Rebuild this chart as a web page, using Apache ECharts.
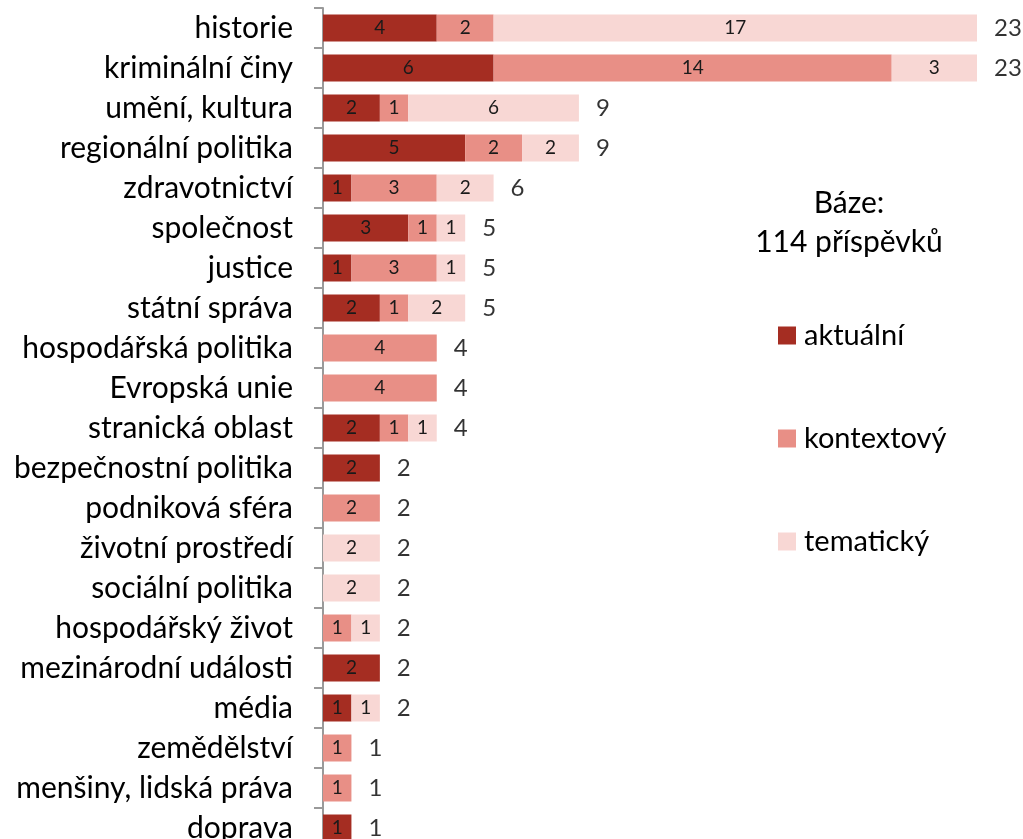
<!DOCTYPE html>
<html>
<head>
<meta charset="utf-8">
<script src="https://cdn.jsdelivr.net/npm/echarts@6/dist/echarts.min.js"></script>
<style>
  html, body { margin: 0; padding: 0; background: #fff; }
  #chart { width: 1023px; height: 839px; }
</style>
</head>
<body>
<div id="chart"></div>
<script>
// kategorie shora dolu
const categories = ['historie', 'kriminální činy', 'umění, kultura', 'regionální politika', 'zdravotnictví',
  'společnost', 'justice', 'státní správa', 'hospodářská politika', 'Evropská unie', 'stranická oblast',
  'bezpečnostní politika', 'podniková sféra', 'životní prostředí', 'sociální politika', 'hospodářský život',
  'mezinárodní události', 'média', 'zemědělství', 'menšiny, lidská práva', 'doprava']
const aktualni   = [4, 6, 2, 5, 1, 3, 1, 2, 0, 0, 2, 2, 0, 0, 0, 0, 2, 1, 0, 0, 1]
const kontextovy = [2, 14, 1, 2, 3, 1, 3, 1, 4, 4, 1, 0, 2, 0, 0, 1, 0, 0, 1, 1, 0]
const tematicky  = [17, 3, 6, 2, 2, 1, 1, 2, 0, 0, 1, 0, 0, 2, 2, 1, 0, 1, 0, 0, 0]
const seriesNames = ['aktuální', 'kontextový', 'tematický']
const colors = ['#a52d22', '#e88f86', '#f8d7d4']

const totals = categories.map((c, i) => aktualni[i] + kontextovy[i] + tematicky[i])

const FONT = 'Lato'

const barLabel = {
  show: true,
  position: 'inside',
  color: '#1a1a1a',
  fontFamily: FONT,
  fontSize: 19,
  formatter: p => (p.value ? p.value : '')
}

const chart = echarts.init(document.getElementById('chart'))
chart.setOption({
  animation: false,
  textStyle: { fontFamily: FONT },
  // spodni radek je v puvodnim grafu oriznuty
  grid: { left: 323, top: 8, width: 654, height: 840, containLabel: false, outerBoundsMode: 'none' },
  xAxis: {
    type: 'value',
    min: 0,
    max: 23,
    show: false
  },
  yAxis: {
    type: 'category',
    inverse: true,
    data: categories,
    axisLine: { show: true, lineStyle: { color: '#9a9a9a', width: 2 } },
    axisTick: { show: true, length: 9, lineStyle: { color: '#9a9a9a', width: 2 } },
    axisLabel: { color: '#000', fontFamily: FONT, fontSize: 30, margin: 30 }
  },
  legend: {
    orient: 'vertical',
    left: 773,
    top: 316,
    data: seriesNames,
    icon: 'rect',
    itemWidth: 18,
    itemHeight: 18,
    itemGap: 74,
    textStyle: { color: '#000', fontFamily: FONT, fontSize: 29, padding: [0, 0, 0, 3] }
  },
  graphic: [{
    type: 'text',
    x: 849,
    y: 184,
    style: {
      text: 'Báze:\n114 příspěvků',
      fill: '#000',
      font: '30px Lato',
      lineHeight: 39,
      align: 'center',
      verticalAlign: 'top'
    }
  }],
  series: [
    { name: seriesNames[0], type: 'bar', stack: 'a', barWidth: 27, data: aktualni,
      itemStyle: { color: colors[0] }, label: barLabel },
    { name: seriesNames[1], type: 'bar', stack: 'a', barWidth: 27, data: kontextovy,
      itemStyle: { color: colors[1] }, label: barLabel },
    { name: seriesNames[2], type: 'bar', stack: 'a', barWidth: 27, data: tematicky,
      itemStyle: { color: colors[2] }, label: barLabel },
    {
      name: 'celkem',
      type: 'scatter',
      symbolSize: 0,
      data: totals.map((t, i) => [t, categories[i]]),
      label: {
        show: true,
        position: 'right',
        distance: 17,
        color: '#000',
        fontFamily: FONT,
        fontSize: 24,
        formatter: p => p.value[0]
      }
    }
  ]
})
</script>
</body>
</html>
